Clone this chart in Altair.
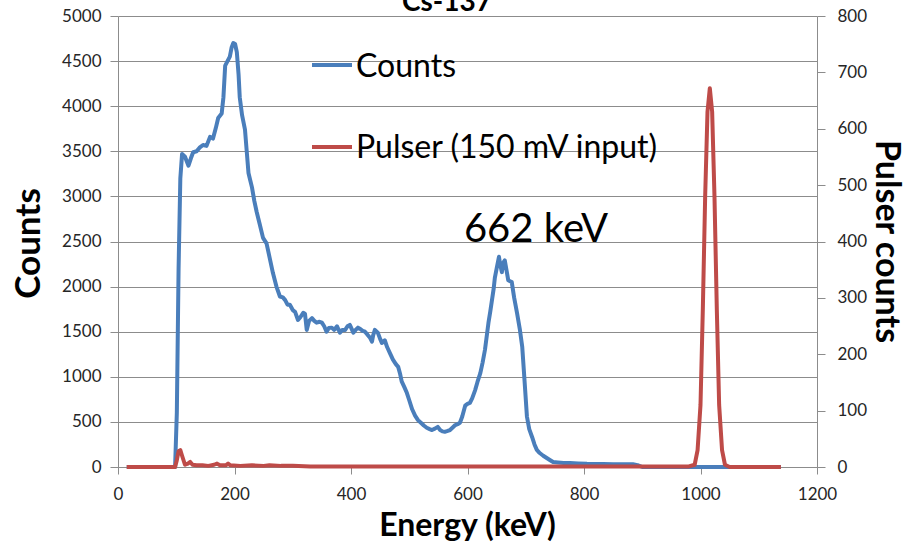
import altair as alt
import pandas as pd

# ---- data ----
counts_energy = [15, 98, 101, 104, 107, 110, 115, 121, 125, 129, 135, 140, 146, 152, 158, 163, 168, 172,
                 178, 181, 184, 188, 192, 195, 198, 201, 204, 207, 209, 213, 218, 221, 224, 227, 230, 234,
                 238, 243, 249, 255, 260, 266, 272, 278, 283, 287, 291, 295, 300, 304, 309, 313, 318, 321,
                 324, 328, 333, 337, 341, 346, 350, 354, 358, 362, 367, 371, 376, 381, 385, 390, 394, 398,
                 404, 408, 412, 416, 420, 424, 428, 433, 436, 438, 441, 446, 450, 453, 458, 462, 467, 472,
                 477, 481, 484, 487, 492, 496, 500, 505, 510, 515, 520, 525, 530, 535, 539, 544, 549, 553,
                 557, 561, 566, 570, 575, 579, 583, 587, 591, 596, 600, 604, 608, 613, 617, 622, 626, 630,
                 633, 636, 639, 642, 645, 647, 650, 654, 656, 659, 661, 664, 667, 670, 673, 676, 680, 685,
                 690, 694, 698, 702, 706, 711, 715, 719, 724, 730, 736, 742, 747, 755, 765, 776, 790, 805,
                 820, 833, 850, 870, 884, 892, 900, 1138]
counts_values = [0, 0, 600, 2200, 3200, 3470, 3440, 3340, 3420, 3490, 3500, 3540, 3570, 3560, 3660, 3640, 3760, 3870,
                 3920, 4100, 4450, 4500, 4550, 4650, 4700, 4690, 4600, 4350, 4100, 3900, 3740, 3500, 3260, 3180, 3100, 2950,
                 2830, 2700, 2540, 2480, 2330, 2150, 2000, 1890, 1880, 1850, 1800, 1800, 1740, 1720, 1630, 1660, 1710, 1700,
                 1520, 1620, 1650, 1620, 1600, 1610, 1600, 1560, 1500, 1540, 1545, 1520, 1560, 1490, 1520, 1520, 1560, 1575,
                 1490, 1520, 1545, 1530, 1510, 1500, 1470, 1430, 1390, 1460, 1520, 1490, 1420, 1375, 1405, 1330, 1260, 1190,
                 1140, 1110, 1040, 950, 880, 820, 740, 640, 570, 520, 490, 460, 435, 420, 410, 425, 445, 410,
                 395, 390, 400, 410, 440, 465, 475, 490, 560, 680, 700, 710, 760, 850, 940, 1040, 1160, 1300,
                 1450, 1600, 1720, 1850, 1980, 2100, 2200, 2330, 2250, 2160, 2260, 2290, 2180, 2070, 2060, 2050, 1880, 1710,
                 1520, 1330, 950, 560, 420, 330, 250, 190, 155, 125, 100, 75, 55, 50, 45, 44, 40, 35,
                 33, 33, 30, 30, 30, 20, 0, 0]

pulser_energy = [15, 98, 101, 104, 107, 110, 115, 120, 124, 128, 135, 145, 155, 165, 170, 175, 185, 189, 193,
                 210, 230, 250, 260, 280, 300, 330, 400, 500, 600, 700, 800, 900, 980, 990, 995, 1000, 1004,
                 1008, 1012, 1016, 1020, 1024, 1028, 1032, 1037, 1042, 1050, 1138]
pulser_values = [0, 0, 12, 28, 30, 20, 4, 6, 9, 4, 3, 3, 2, 4, 6, 3, 3, 6, 3,
                 2, 3, 2, 3, 2, 2, 1, 1, 1, 1, 1, 1, 1, 1, 4, 30, 110, 280,
                 480, 630, 672, 630, 480, 280, 110, 30, 4, 0, 0]

counts_df = pd.DataFrame({"Energy": counts_energy, "Counts": counts_values})
pulser_df = pd.DataFrame({"Energy": pulser_energy, "Pulser": pulser_values})

FONT = "Lato"
BLUE = "#4a7ebb"
RED = "#be4b48"
GRID = "#8c8c8c"

W, H = 699, 451

x_enc = alt.X(
    "Energy:Q",
    scale=alt.Scale(domain=[0, 1200], nice=False),
    axis=alt.Axis(
        values=[0, 200, 400, 600, 800, 1000, 1200], grid=False, title="Energy (keV)", format="d",
        titleFont=FONT, titleFontSize=32, titleFontWeight="bold", titleColor="#000",
        titleX=349, titleY=68, titleAnchor="middle", titleAlign="center", titleBaseline="alphabetic",
        labelFont=FONT, labelFontSize=17, labelColor="#262626", labelPadding=12,
        tickSize=7, tickColor=GRID, domainColor=GRID, labelFlush=False,
    ),
)

blue = alt.Chart(counts_df).mark_line(color=BLUE, strokeWidth=4, strokeJoin="round").encode(
    x=x_enc,
    y=alt.Y(
        "Counts:Q",
        scale=alt.Scale(domain=[0, 5000], nice=False),
        axis=alt.Axis(
            orient="left", values=list(range(0, 5001, 500)), grid=True, gridColor=GRID, gridWidth=1,
            format="d",
            title="Counts", titleFont=FONT, titleFontSize=35, titleFontWeight="bold", titleColor="#000",
            titleAngle=270, titleX=-90, titleY=227, titleAlign="center", titleBaseline="middle",
            labelFont=FONT, labelFontSize=17, labelColor="#262626", labelPadding=9,
            tickSize=8, tickColor=GRID, domainColor=GRID,
        ),
    ),
)

red = alt.Chart(pulser_df).mark_line(color=RED, strokeWidth=4, strokeJoin="round").encode(
    x=alt.X("Energy:Q", scale=alt.Scale(domain=[0, 1200], nice=False)),
    y=alt.Y(
        "Pulser:Q",
        scale=alt.Scale(domain=[0, 800], nice=False),
        axis=alt.Axis(
            orient="right", values=list(range(0, 801, 100)), grid=False, format="d",
            title="Pulser counts", titleFont=FONT, titleFontSize=34, titleFontWeight="bold", titleColor="#000",
            titleAngle=90, titleX=68, titleY=225, titleAlign="center", titleBaseline="middle",
            labelFont=FONT, labelFontSize=17, labelColor="#262626", labelPadding=12,
            tickSize=8, tickColor=GRID, domainColor=GRID,
        ),
    ),
)

legend_names = ["Counts", "Pulser (150 mV input)"]
leg_blue = alt.Chart().mark_rule(color=BLUE, strokeWidth=4).encode(
    x=alt.value(194), x2=alt.value(234), y=alt.value(49))
leg_red = alt.Chart().mark_rule(color=RED, strokeWidth=4).encode(
    x=alt.value(194), x2=alt.value(234), y=alt.value(131))
leg_t1 = alt.Chart().mark_text(text=legend_names[0], font=FONT, fontSize=32, align="left",
                               baseline="alphabetic", color="#000").encode(x=alt.value(238), y=alt.value(61))
leg_t2 = alt.Chart().mark_text(text=legend_names[1], font=FONT, fontSize=32, align="left",
                               baseline="alphabetic", color="#000").encode(x=alt.value(238), y=alt.value(142))
annot = alt.Chart().mark_text(text="662 keV", font=FONT, fontSize=40, align="center",
                              baseline="alphabetic", color="#000").encode(x=alt.value(418), y=alt.value(226))
title = alt.Chart().mark_text(text="Cs-137", font=FONT, fontSize=28, fontWeight="bold", align="center",
                              baseline="alphabetic", color="#000").encode(x=alt.value(329), y=alt.value(-5))

chart = alt.layer(blue, red, leg_blue, leg_red, leg_t1, leg_t2, annot, title).resolve_scale(
    y="independent"
).properties(
    width=W, height=H,
    autosize=alt.AutoSizeParams(type="none"),
    padding={"left": 118, "top": 16, "right": 91, "bottom": 75},
    background="white",
).configure_view(stroke=None)

chart.save("out.html", embed_options={"renderer": "svg", "actions": False})
